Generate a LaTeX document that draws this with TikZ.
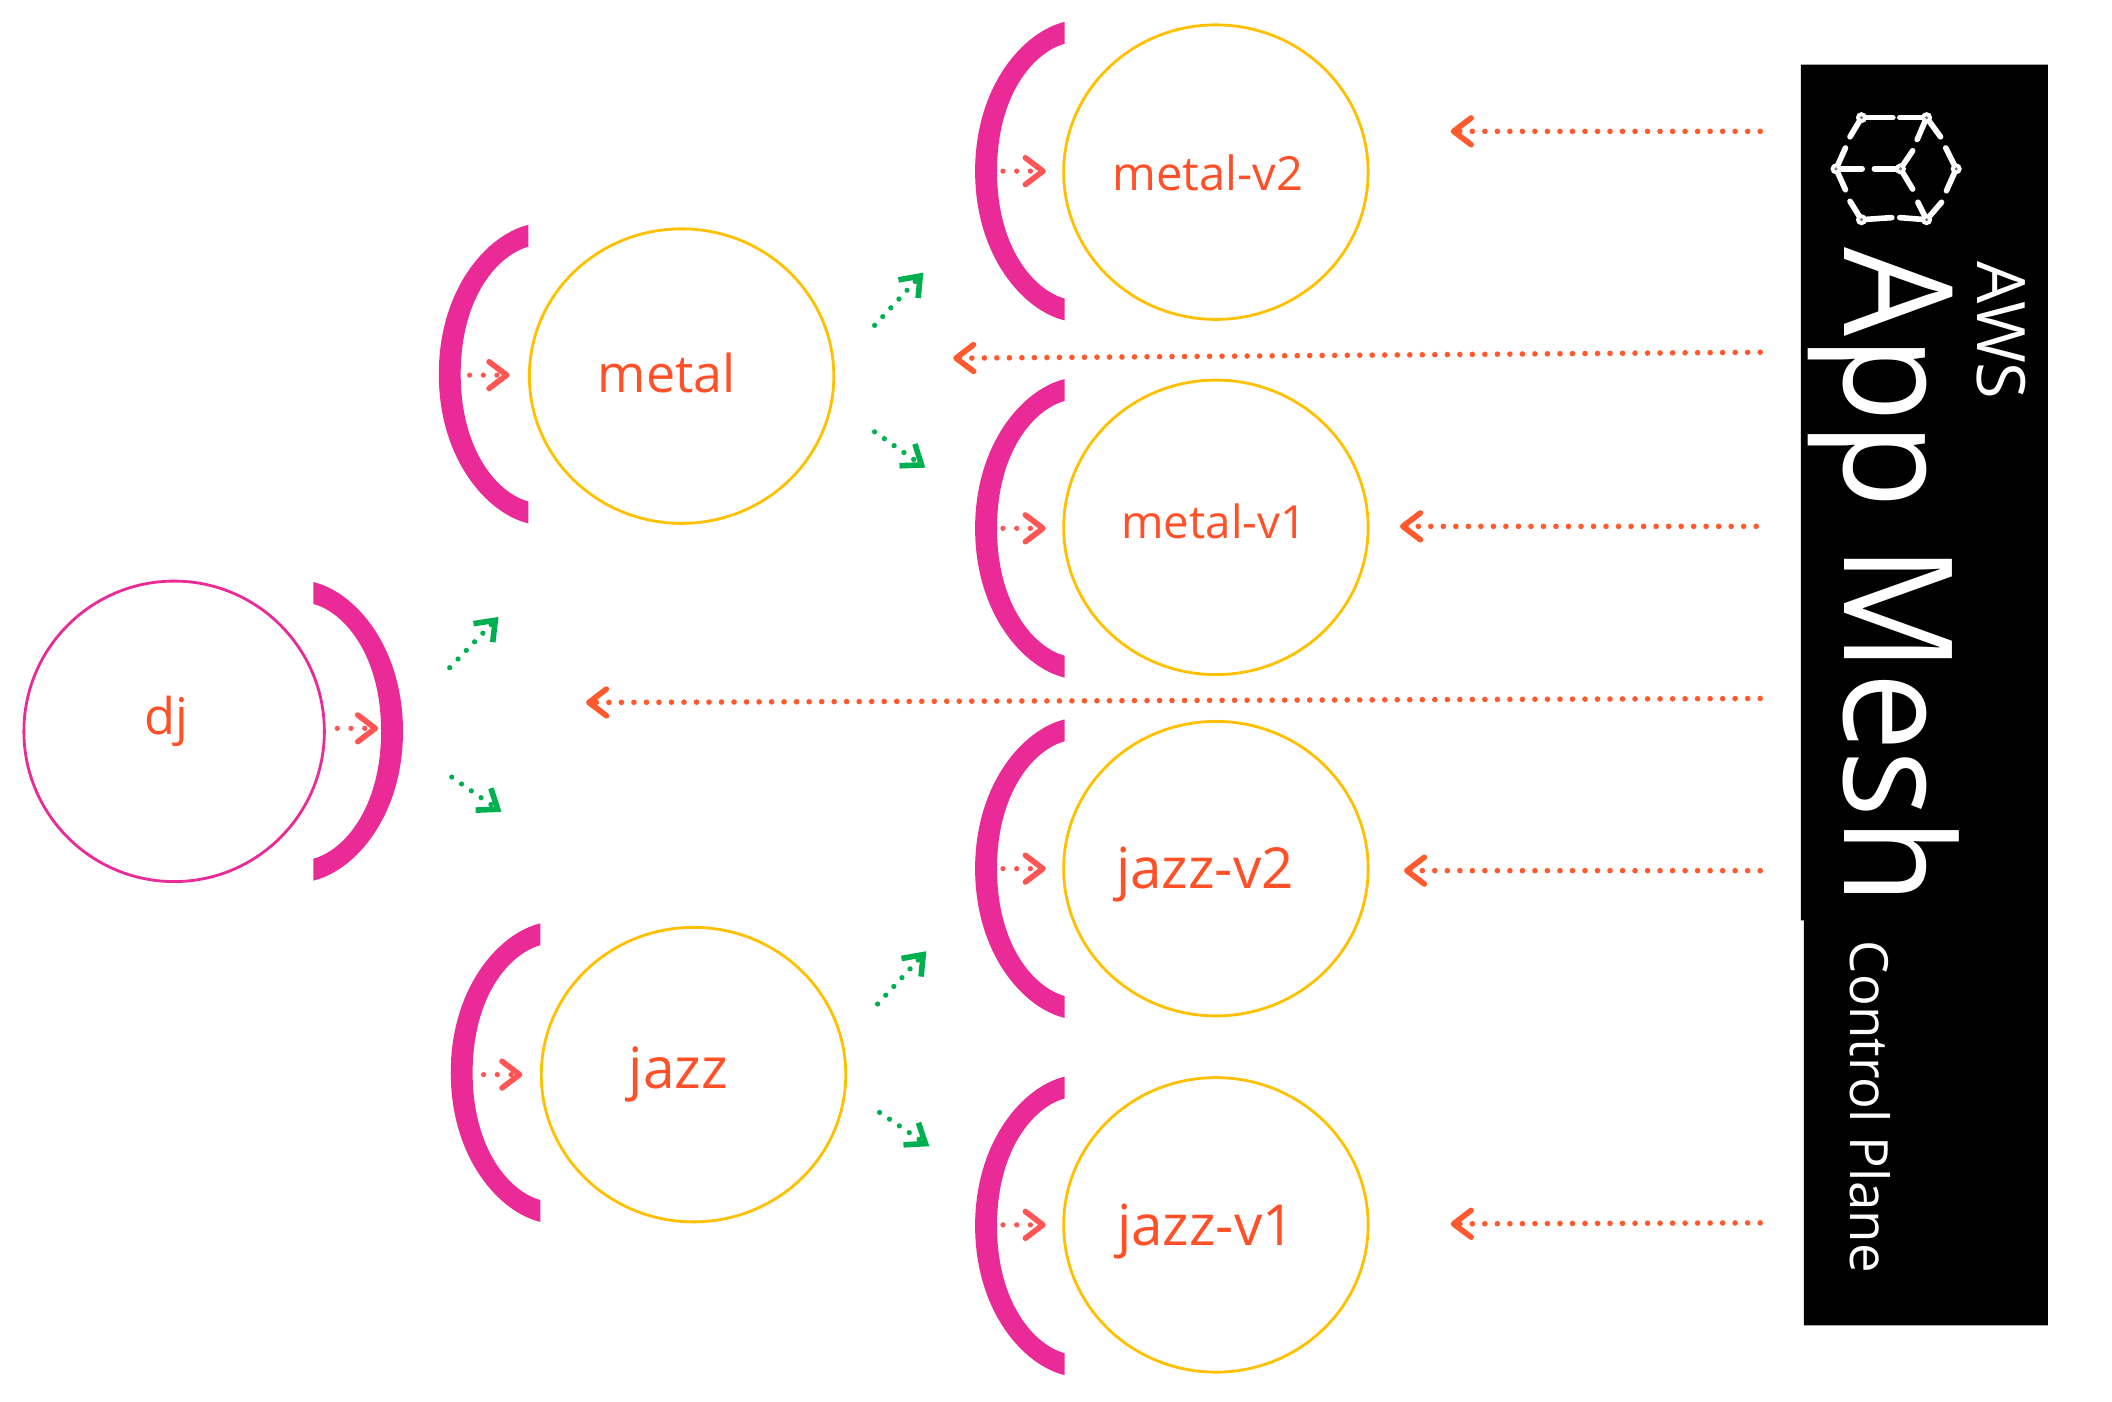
\documentclass[tikz,border=0pt]{standalone}
\usepackage{graphicx}
\usepackage{fontspec}
\setmainfont{Open Sans}
\usetikzlibrary{shapes.geometric, arrows.meta}
\definecolor{meshpink}{HTML}{E92A97}
\definecolor{meshyellow}{HTML}{FFC000}
\definecolor{meshorange}{HTML}{FF5028}
\definecolor{meshred}{HTML}{FF5555}
\definecolor{meshctrl}{HTML}{FF5A2D}
\definecolor{meshgreen}{HTML}{00B050}
\newlength{\pxu}
\setlength{\pxu}{0.00995cm}
\tikzset{
  svc/.style={shape=ellipse,draw=meshyellow,line width=0.8pt,minimum width=306\pxu,minimum height=296\pxu,inner sep=0pt},
  svcname/.style={text=meshorange,inner sep=0pt},
  flow/.style={meshred,line width=1.5pt,line cap=round,dash pattern=on 0pt off 3.9pt,
    -{Straight Barb[round,length=5pt,width=7.6pt,line width=1.6pt]}},
  ctrl/.style={meshctrl,line width=1.6pt,line cap=round,dash pattern=on 0pt off 3.56pt,
    -{Straight Barb[round,length=5pt,width=7.6pt,line width=1.6pt]}},
  route/.style={meshgreen,line width=1.5pt,line cap=round,dash pattern=on 0pt off 3.4pt,
    -{Straight Barb[length=5pt,width=7.6pt,line width=1.6pt]}},
  meshline/.style={white,line width=1.6pt,line cap=round},
  pics/sidecar/.style={code={
    \fill[meshpink] (0,-150) .. controls (-42,-140) and (-90,-85) .. (-90,0)
      .. controls (-90,85) and (-42,140) .. (0,150) -- (0,128)
      .. controls (-30,120) and (-68,78) .. (-68,0)
      .. controls (-68,-78) and (-30,-120) .. (0,-128) -- cycle;
  }}
}
\begin{document}
\begin{tikzpicture}[x=0.00995cm,y=-0.00995cm]
\useasboundingbox (0,0) rectangle (2122.6,1409);
\fill[black] (1810,65) -- (2058,65) -- (2058,1332) -- (1813,1332) -- (1813,925) -- (1810,925) -- cycle;

\node[svc,draw=meshpink,minimum width=302\pxu,minimum height=302\pxu] (dj) at (175,735) {};
\node[svc] (metal) at (685,378) {};
\node[svc] (jazz) at (697,1080) {};
\node[svc] (metalv2) at (1222,173) {};
\node[svc] (metalv1) at (1222,530) {};
\node[svc] (jazzv2) at (1222,873) {};
\node[svc] (jazzv1) at (1222,1231) {};

\pic[xscale=-1] at (315,735) {sidecar};
\pic at (531,376) {sidecar};
\pic at (543,1078) {sidecar};
\pic at (1070,172) {sidecar};
\pic at (1070,531) {sidecar};
\pic at (1070,873) {sidecar};
\pic at (1070,1232) {sidecar};

\node[svcname,font=\fontsize{14.4}{14.4}\selectfont] (djname) at (167,725) {dj};
\node[svcname,font=\fontsize{14.8}{14.8}\selectfont] (metalname) at (670,375) {metal};
\node[svcname,font=\fontsize{16.2}{16.2}\selectfont] (jazzname) at (682,1080) {jazz};
\node[svcname,font=\fontsize{13.4}{13.4}\selectfont] (metalv2name) at (1214,174) {metal-v2};
\node[svcname,font=\fontsize{13}{13}\selectfont] (metalv1name) at (1220,524) {metal-v1};
\node[svcname,font=\fontsize{16.1}{16.1}\selectfont] (jazzv2name) at (1211,879) {jazz-v2};
\node[svcname,font=\fontsize{16.1}{16.1}\selectfont] (jazzv1name) at (1212,1238) {jazz-v1};

\coordinate (dja) at (339,732);
\coordinate (djb) at (380,732);
\coordinate (metala) at (472,377);
\coordinate (metalb) at (512,377);
\coordinate (jazza) at (486,1080);
\coordinate (jazzb) at (525,1080);
\coordinate (metalv2a) at (1008,172);
\coordinate (metalv2b) at (1051,172);
\coordinate (metalv1a) at (1008,531);
\coordinate (metalv1b) at (1051,531);
\coordinate (jazzv2a) at (1008,873);
\coordinate (jazzv2b) at (1051,873);
\coordinate (jazzv1a) at (1008,1231);
\coordinate (jazzv1b) at (1051,1231);
\draw[flow] (dja) -- (djb);
\draw[flow] (metala) -- (metalb);
\draw[flow] (jazza) -- (jazzb);
\draw[flow] (metalv2a) -- (metalv2b);
\draw[flow] (metalv1a) -- (metalv1b);
\draw[flow] (jazzv2a) -- (jazzv2b);
\draw[flow] (jazzv1a) -- (jazzv1b);

\coordinate (djup) at (452,671);
\coordinate (djupend) at (501,620);
\coordinate (djdown) at (454,781);
\coordinate (djdownend) at (504,816);
\coordinate (metalup) at (879,327);
\coordinate (metalupend) at (928,274);
\coordinate (metaldown) at (879,434);
\coordinate (metaldownend) at (930,470);
\coordinate (jazzup) at (882,1009);
\coordinate (jazzupend) at (931,956);
\coordinate (jazzdown) at (884,1118);
\coordinate (jazzdownend) at (934,1152);
\draw[route] (djup) -- (djupend);
\draw[route] (djdown) -- (djdownend);
\draw[route] (metalup) -- (metalupend);
\draw[route] (metaldown) -- (metaldownend);
\draw[route] (jazzup) -- (jazzupend);
\draw[route] (jazzdown) -- (jazzdownend);

\coordinate (ctrla) at (1769,132);
\coordinate (ctrlaend) at (1458,132);
\coordinate (ctrlb) at (1769,354);
\coordinate (ctrlbend) at (958,360);
\coordinate (ctrlc) at (1765,529);
\coordinate (ctrlcend) at (1407,529);
\coordinate (ctrld) at (1769,702);
\coordinate (ctrldend) at (589,706);
\coordinate (ctrle) at (1769,875);
\coordinate (ctrleend) at (1411,875);
\coordinate (ctrlf) at (1769,1229);
\coordinate (ctrlfend) at (1458,1230);
\draw[ctrl] (ctrla) -- (ctrlaend);
\draw[ctrl] (ctrlb) -- (ctrlbend);
\draw[ctrl] (ctrlc) -- (ctrlcend);
\draw[ctrl] (ctrld) -- (ctrldend);
\draw[ctrl] (ctrle) -- (ctrleend);
\draw[ctrl] (ctrlf) -- (ctrlfend);

\node[text=white,rotate=-90,anchor=base west,inner sep=0pt,font=\fontsize{43}{43}\selectfont] (appmesh) at (1854,248) {\scalebox{0.93}[1]{App Mesh}};
\node[text=white,rotate=-90,anchor=base west,inner sep=0pt,font=\fontsize{19}{19}\selectfont] (aws) at (1987,262) {AWS};
\node[text=white,rotate=-90,anchor=base west,inner sep=0pt,font=\fontsize{15}{15}\selectfont] (ctrlplane) at (1860,945) {Control Plane};

\begin{scope}[shift={(1784,36)},scale=0.35]
\foreach \ax/\ay/\bx/\by in {248/235/338/235,358/235/435/235,248/235/215/290,435/235/408/298,435/235/475/290,
  490/322/520/382,520/382/492/445,395/330/360/382,360/382/395/440,360/382/285/382,250/382/175/382,
  175/382/202/322,175/382/202/442,215/475/248/528,248/528/335/522,358/522/435/528,435/528/410/478,435/528/478/478}
  \draw[meshline] (\ax,\ay) -- (\bx,\by);
\foreach \ax/\ay in {248/235,435/235,520/382,435/528,248/528,175/382,360/382}
  {\fill[white] (\ax,\ay) circle(16);
   \fill[gray] (\ax,\ay) circle(5);}
\end{scope}
\end{tikzpicture}
\end{document}
